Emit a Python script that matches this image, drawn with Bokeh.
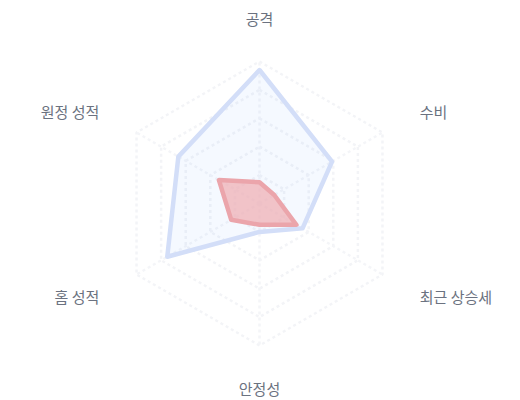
import numpy as np
from bokeh.plotting import figure
from bokeh.models import Range1d, ColumnDataSource
from bokeh.core.properties import value
from bokeh.embed import file_html
from bokeh.resources import INLINE

categories = ["공격", "수비", "최근 상승세", "안정성", "홈 성적", "원정 성적"]
series_a = [94, 59, 35, 20, 75, 66]   # blue team
series_b = [15, 12, 30, 15, 23, 33]   # red team
grid_levels = [20, 40, 60, 80, 100]
max_value = 100

W, H = 520, 400
cx, cy = 259, 197          # center in figure pixels (from left, from bottom)
R = 142                    # pixel radius of max_value
LABEL_R = 185

p = figure(width=W, height=H, output_backend="svg", toolbar_location=None,
           x_range=Range1d(-cx, W - cx), y_range=Range1d(-cy, H - cy),
           min_border=0, outline_line_color=None)
p.axis.visible = False
p.grid.visible = False
p.background_fill_color = "white"
p.border_fill_color = "white"

n = len(categories)
angles = np.pi / 2 - np.arange(n) * 2 * np.pi / n

def poly(vals):
    r = np.array(vals, dtype=float) / max_value * R
    return list(r * np.cos(angles)), list(r * np.sin(angles))

# grid hexagons
for lv in grid_levels:
    xs, ys = poly([lv] * n)
    p.line(xs + [xs[0]], ys + [ys[0]], line_color="#f3f4f7", line_width=2.5,
           line_dash="3 3")
# spokes
for a in angles:
    p.line([0, R * np.cos(a)], [0, R * np.sin(a)], line_color="#f4f5f8",
           line_width=2.5, line_dash="3 3")

xa, ya = poly(series_a)
p.patch(xa, ya, fill_color="#3b82f6", fill_alpha=0.05,
        line_color="#d3def8", line_width=4.5, line_join="round")
xb, yb = poly(series_b)
p.patch(xb, yb, fill_color="#efb0b6", fill_alpha=0.75,
        line_color="#eba5ab", line_width=4.5, line_join="round")

# labels
lx, ly, align = [], [], []
for a in angles:
    c = np.cos(a)
    lx.append(LABEL_R * c)
    ly.append(LABEL_R * np.sin(a))
    if abs(c) < 1e-6:
        align.append("center")
    elif c > 0:
        align.append("left")
    else:
        align.append("right")
src = ColumnDataSource(dict(x=lx, y=ly, t=categories, align=align))
p.text(x="x", y="y", text="t", source=src, text_align="align",
       text_baseline="middle", text_font=value("Noto Sans CJK KR"),
       text_font_size="15px", text_color="#6b7280")

open("out.html", "w").write(file_html(p, INLINE))
